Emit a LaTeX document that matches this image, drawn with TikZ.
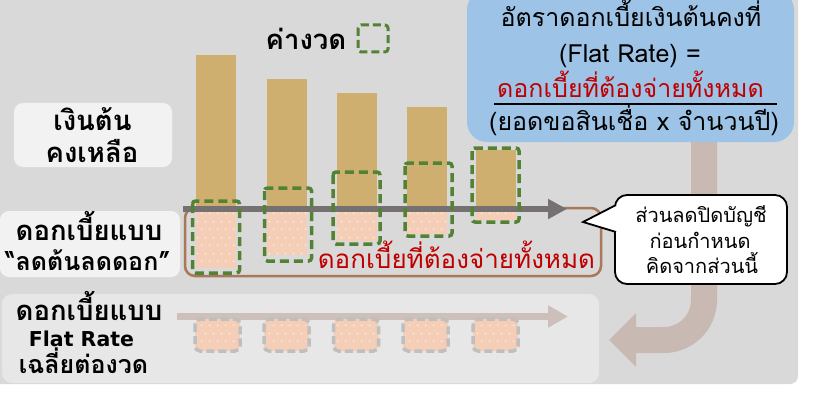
\documentclass[tikz,border=0pt]{standalone}
\usepackage{fontspec}
\setmainfont{Loma}[Script=Thai]
\newfontfamily\latinbold{DejaVu Sans}
\usetikzlibrary{patterns.meta,arrows.meta}
\definecolor{panel}{RGB}{217,217,217}
\definecolor{lblbg}{RGB}{242,242,242}
\definecolor{lowbg}{RGB}{231,231,231}
\definecolor{tan}{RGB}{207,175,112}
\definecolor{peach}{RGB}{244,206,182}
\definecolor{grn}{RGB}{84,130,53}
\definecolor{bluebx}{RGB}{157,195,230}
\definecolor{redt}{RGB}{192,0,0}
\definecolor{dgray}{RGB}{191,191,191}
\definecolor{darkarr}{RGB}{118,113,113}
\definecolor{palearr}{RGB}{205,192,186}
\definecolor{bigarr}{RGB}{200,186,178}
\definecolor{brownc}{RGB}{168,120,88}
\tikzdeclarepattern{
  name=wdots, type=uncolored,
  bounding box={(0pt,0pt) and (8pt,16pt)},
  tile size={(8pt,16pt)},
  code={\fill (2pt,4pt) circle (0.75pt); \fill (6pt,12pt) circle (0.75pt);}
}
\tikzset{
  reg/.style={font=\fontsize{25}{30}\selectfont, inner sep=0pt, anchor=base},
  lbl/.style={font=\fontsize{27.5}{32}\selectfont\bfseries, inner sep=0pt, anchor=base},
  call/.style={font=\fontsize{20}{24}\selectfont, inner sep=0pt, anchor=base},
  greenbox/.style={draw=grn, line width=3.5pt, dash pattern=on 9pt off 5pt, rounded corners=3pt},
  graybox/.style={draw=dgray, line width=3.5pt, dash pattern=on 8pt off 4pt, rounded corners=5pt},
  peachdots/.style={pattern=wdots, pattern color=white},
}
\begin{document}
\begin{tikzpicture}[x=1pt,y=-1pt]
\useasboundingbox (0,0) rectangle (813,393);
\clip (0,0) rectangle (813,393);
\fill[white] (0,0) rectangle (813,393);
\fill[panel, rounded corners=8pt] (-20,-20) rectangle (798,384);

% big curved arrow
\coordinate (bigs) at (704,140);
\coordinate (bige) at (636,340);
\draw[bigarr, line width=26pt, rounded corners=40pt] (bigs) |- (bige);
\fill[bigarr] (636,313) -- (609,340) -- (636,367) -- cycle;

% blue formula box
\node[fill=bluebx, rounded corners=20pt, minimum width=327pt, minimum height=152pt, inner sep=0pt] (formula) at (630.5,66) {};
\node[reg] (f1) at (631,27) {อัตราดอกเบี้ยเงินต้นคงที่};
\node[reg] (f2) at (630,63) {(Flat Rate) =};
\node[reg, text=redt] (f3) at (630.5,98) {ดอกเบี้ยที่ต้องจ่ายทั้งหมด};
\node[reg] (f4) at (634,130) {(ยอดขอสินเชื่อ x จำนวนปี)};
\coordinate (fbl) at (494,104);
\coordinate (fbr) at (777,104);
\draw[line width=2.5pt] (fbl) -- (fbr);

% label boxes
\node[fill=lblbg, rounded corners=9pt, minimum width=158pt, minimum height=64pt, inner sep=0pt] (remainbox) at (93,135) {};
\node[lbl] (r1) at (92.5,130) {เงินต้น};
\node[lbl] (r2) at (92,162) {คงเหลือ};
\node[fill=lblbg, rounded corners=9pt, minimum width=180pt, minimum height=66pt, inner sep=0pt] (redbox) at (90,244) {};
\node[lbl] (d1) at (89,240) {ดอกเบี้ยแบบ};
\node[lbl, font=\fontsize{25}{30}\selectfont\bfseries] (d2) at (88,270) {“ลดต้นลดดอก”};

% legend
\node[lbl] (leg) at (306,50) {ค่างวด};
\draw[greenbox, line width=3pt, dash pattern=on 8pt off 4pt] (358,25) rectangle (388,52);

% lower box
\node[fill=lowbg, rounded corners=10pt, minimum width=597pt, minimum height=89pt, inner sep=0pt] (lowbox) at (300.5,338.5) {};
\node[lbl] (l1) at (89,320) {ดอกเบี้ยแบบ};
\node[lbl, font=\fontsize{20.5}{26}\selectfont\latinbold\bfseries] (l2) at (81.5,346) {Flat Rate};
\node[lbl, font=\fontsize{25}{30}\selectfont\bfseries] (l3) at (83.5,373) {เฉลี่ยต่องวด};

% bars
\foreach \cx/\t/\b in {216/55/268, 287/79/255, 357/93/241, 427/107/234, 496/150/220}{
  \fill[tan] (\cx-20,\t) rectangle (\cx+20,209);
  \fill[peach] (\cx-20,209) rectangle (\cx+20,\b);
  \fill[peachdots] (\cx-20,209) rectangle (\cx+20,\b);
}
% brown box
\draw[brownc, line width=2.5pt, rounded corners=10pt] (185,208) rectangle (601,276);
% dark arrow
\coordinate (da1) at (183,209);
\coordinate (da2) at (567,209);
\draw[darkarr, line width=6pt, -{Triangle[length=19pt,width=19pt]}] (da1) -- (da2);
% green boxes
\foreach \cx/\t/\b in {216/201/273, 288/188/261, 356.5/172/244, 428.5/163/236, 495.5/148/222}{
  \draw[greenbox] (\cx-23.5,\t) rectangle (\cx+23.5,\b);
}
\node[reg, font=\fontsize{26}{30}\selectfont, text=redt] (tot) at (456.5,268) {ดอกเบี้ยที่ต้องจ่ายทั้งหมด};

% flat arrow and boxes
\coordinate (pa1) at (177,316.5);
\coordinate (pa2) at (568,316.5);
\draw[palearr, line width=6.5pt, -{Triangle[length=20pt,width=21pt]}] (pa1) -- (pa2);
\foreach \cx in {217.5,286.5,356,425.5,495.5}{
  \fill[peach, rounded corners=5pt] (\cx-22.5,319) rectangle (\cx+22.5,351);
  \fill[peachdots] (\cx-19,322) rectangle (\cx+19,348);
  \draw[graybox] (\cx-22.5,319) rectangle (\cx+22.5,351);
}

% callout
\node[draw=black, line width=1.8pt, fill=white, rounded corners=12pt, minimum width=172pt, minimum height=89pt, inner sep=0pt] (callout) at (701,239.5) {};
\coordinate (ctip) at (583,222);
\fill[white] (ctip) -- (618,204) -- (618,233) -- cycle;
\draw[line width=1.8pt, line join=miter] (616,205) -- (ctip) -- (616,232);
\node[call] (c1) at (701,222) {ส่วนลดปิดบัญชี};
\node[call] (c2) at (700,248) {ก่อนกำหนด};
\node[call] (c3) at (702,273) {คิดจากส่วนนี้};
\end{tikzpicture}
\end{document}
